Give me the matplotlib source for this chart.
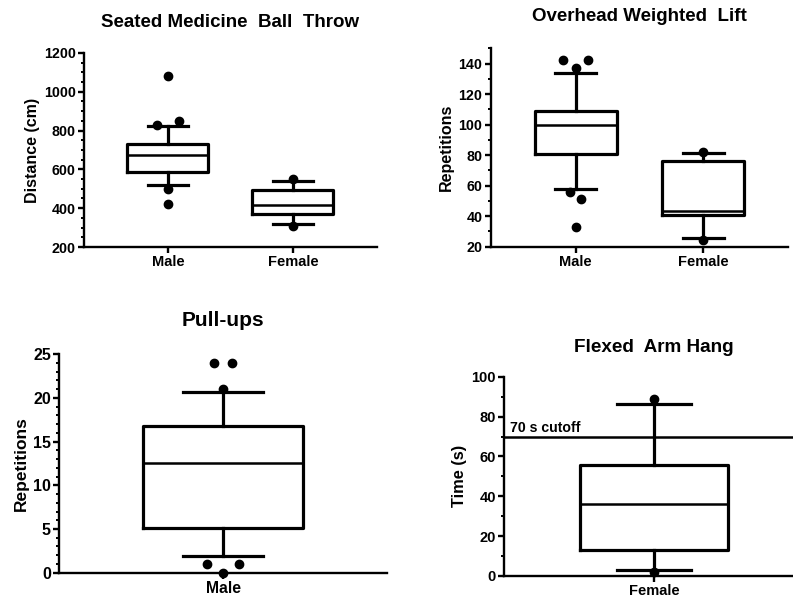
import matplotlib
matplotlib.use("Agg")
import matplotlib.pyplot as plt
from matplotlib.ticker import MultipleLocator

plt.rcParams['font.family'] = ['Liberation Sans', 'DejaVu Sans']
plt.rcParams['font.weight'] = 'bold'

# ---------------- data ----------------
# Seated Medicine Ball Throw (cm)
smbt_categories = ["Male", "Female"]
smbt_q1 = [585, 368]
smbt_median = [676, 418]
smbt_q3 = [731, 494]
smbt_whislo = [520, 318]
smbt_whishi = [822, 540]
smbt_outliers = [[1080, 830, 850, 500, 420], [550, 310]]

# Overhead Weighted Lift (repetitions)
owl_categories = ["Male", "Female"]
owl_q1 = [80.7, 40.5]
owl_median = [100, 43.5]
owl_q3 = [109, 76]
owl_whislo = [58, 26]
owl_whishi = [134, 81.5]
owl_outliers = [[142, 142, 137, 56, 51, 33], [82, 24.5]]

# Pull-ups (repetitions)
pu_categories = ["Male"]
pu_q1 = [5.15]
pu_median = [12.5]
pu_q3 = [16.8]
pu_whislo = [1.9]
pu_whishi = [20.7]
pu_outliers = [[24, 24, 21, 1, 1, 0]]

# Flexed Arm Hang (s)
fah_categories = ["Female"]
fah_q1 = [13]
fah_median = [36]
fah_q3 = [55.7]
fah_whislo = [3]
fah_whishi = [86.3]
fah_outliers = [[88.8, 1.9]]
fah_cutoff = 70
fah_cutoff_label = "70 s cutoff"

# ---------------- layout / style ----------------
smbt_jitter = [[0, -0.085, 0.085, 0, 0], [0, 0]]
owl_jitter = [[-0.1, 0.1, 0, -0.045, 0.045, 0], [0, 0]]
pu_jitter = [[-0.055, 0.055, 0, -0.1, 0.1, 0]]
fah_jitter = [[0, 0]]

LW = 2.3
MS = 6.0


def make_stats(q1, med, q3, lo, hi):
    return [dict(q1=a, med=b, q3=c, whislo=d, whishi=e, fliers=[])
            for a, b, c, d, e in zip(q1, med, q3, lo, hi)]


def draw(ax, cats, q1, med, q3, lo, hi, outl, jit, width, title, ylabel,
         ylim, major, minor, xlim, title_size, title_pad, label_size,
         ytick_size, xtick_size):
    stats = make_stats(q1, med, q3, lo, hi)
    pos = list(range(len(cats)))
    ax.bxp(stats, positions=pos, widths=width, capwidths=width / 2,
           showfliers=False,
           boxprops=dict(color='black', linewidth=LW),
           whiskerprops=dict(color='black', linewidth=LW),
           capprops=dict(color='black', linewidth=LW),
           medianprops=dict(color='black', linewidth=1.8),
           manage_ticks=False)
    for p, vals, js in zip(pos, outl, jit):
        ax.plot([p + j for j in js], vals, 'o', color='black',
                markersize=MS, zorder=5, clip_on=False)
    ax.set_xlim(*xlim)
    ax.set_ylim(*ylim)
    ax.set_xticks(pos)
    ax.set_xticklabels(cats, fontsize=xtick_size, fontweight='bold')
    ax.yaxis.set_major_locator(MultipleLocator(major))
    ax.yaxis.set_minor_locator(MultipleLocator(minor))
    for lab in ax.get_yticklabels():
        lab.set_fontsize(ytick_size)
        lab.set_fontweight('bold')
    ax.set_ylabel(ylabel, fontsize=label_size, fontweight='bold', labelpad=3)
    ax.set_title(title, fontsize=title_size, fontweight='bold', pad=title_pad)
    for s in ['top', 'right']:
        ax.spines[s].set_visible(False)
    for s in ['left', 'bottom']:
        ax.spines[s].set_linewidth(1.7)
    ax.tick_params(axis='both', which='major', length=4, width=1.7, pad=2)
    ax.tick_params(axis='y', which='minor', length=2.5, width=1.4)
    ax.tick_params(axis='x', which='minor', length=0)


fig = plt.figure(figsize=(7.93, 6.02), dpi=100)

ax1 = fig.add_axes([0.1059, 0.5897, 0.3695, 0.3223])
draw(ax1, smbt_categories, smbt_q1, smbt_median, smbt_q3, smbt_whislo,
     smbt_whishi, smbt_outliers, smbt_jitter, 0.648,
     "Seated Medicine  Ball  Throw", "Distance (cm)",
     (200, 1200), 200, 50, (-0.672, 1.672), 13.5, 18.5, 11.5, 10.3, 10.5)

ax2 = fig.add_axes([0.6188, 0.5902, 0.3749, 0.3296])
draw(ax2, owl_categories, owl_q1, owl_median, owl_q3, owl_whislo,
     owl_whishi, owl_outliers, owl_jitter, 0.643,
     "Overhead Weighted  Lift", "Repetitions",
     (20, 150), 20, 10, (-0.667, 1.667), 13.5, 19.9, 11.5, 10.3, 10.5)

ax3 = fig.add_axes([0.0748, 0.0487, 0.4129, 0.3628])
draw(ax3, pu_categories, pu_q1, pu_median, pu_q3, pu_whislo,
     pu_whishi, pu_outliers, pu_jitter, 0.982,
     "Pull-ups", "Repetitions",
     (0, 25), 5, 1, (-1, 1), 15, 20.4, 12.5, 11.5, 11.3)

ax4 = fig.add_axes([0.636, 0.0432, 0.3776, 0.331])
draw(ax4, fah_categories, fah_q1, fah_median, fah_q3, fah_whislo,
     fah_whishi, fah_outliers, fah_jitter, 0.984,
     "Flexed  Arm Hang", "Time (s)",
     (0, 100), 20, 10, (-1, 1), 13.6, 18, 11.8, 10.5, 10.5)
ax4.axhline(fah_cutoff, color='black', linewidth=1.8, zorder=1)
ax4.text(-0.96, fah_cutoff + 0.8, fah_cutoff_label, fontsize=10.2,
         fontweight='bold', ha='left', va='bottom')

fig.savefig("out.png", dpi=100)
